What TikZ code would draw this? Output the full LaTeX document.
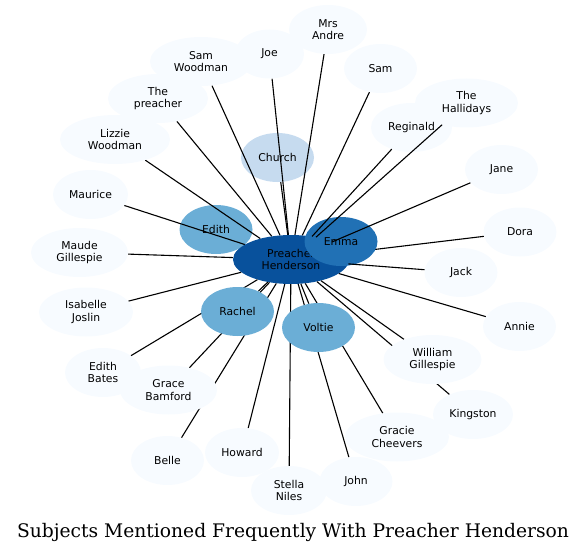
\documentclass[tikz,border=0pt]{standalone}
\usepackage{fontspec}
\usepackage{graphicx}
\newfontfamily\nodefont{DejaVu Sans}
\newfontfamily\titlefont{DejaVu Serif}
\usetikzlibrary{shapes.geometric}
\pgfdeclarelayer{under}
\pgfdeclarelayer{edgelow}
\pgfdeclarelayer{mid}
\pgfdeclarelayer{edgehigh}
\pgfsetlayers{under,edgelow,mid,edgehigh,main}
\definecolor{c0}{HTML}{F7FBFF}
\definecolor{c1}{HTML}{C6DBEF}
\definecolor{c2}{HTML}{6BAED6}
\definecolor{c3}{HTML}{2171B5}
\definecolor{c4}{HTML}{08519C}
\begin{document}
\begin{tikzpicture}[x=1pt,y=-1pt,
  ent/.style={ellipse, draw=none, inner sep=0pt, minimum height=49pt,
    minimum width=73pt, align=center, text=black,
    font=\nodefont\fontsize{10.8}{12.3}\selectfont},
  pale/.style={ent, fill=c0},
  link/.style={draw=black, line width=1.1pt}]
\useasboundingbox (0,0) rectangle (587,551);
% nodes beneath the connectors
\begin{pgfonlayer}{under}
\node[ent, fill=c2] (edith) at (216,229.5) {Edith};
\node[ent, fill=c4, minimum width=116pt] (ph) at (291,259.5) {Preacher\\Henderson};
\node[ent, fill=c1] (church) at (277.5,157.5) {Church};
\node[pale, minimum width=103pt] (halli) at (466.5,103) {The\\Hallidays};
\node[pale, minimum width=81pt] (regi) at (411.5,127.5) {Reginald};
\end{pgfonlayer}
\begin{pgfonlayer}{mid}
\node[ent, fill=c3] (emma) at (341,241.5) {Emma};
\end{pgfonlayer}
% nodes above the connectors
\node[pale, minimum width=78pt] (andre) at (328,29.5) {Mrs\\Andre};
\node[pale, minimum width=69pt] (joe) at (269.5,54) {Joe};
\node[pale, minimum width=102pt] (samw) at (201,61.5) {Sam\\Woodman};
\node[pale] (sam) at (380.5,68.5) {Sam};
\node[pale, minimum width=100pt] (thepr) at (158,98.5) {The\\preacher};
\node[pale, minimum width=110pt] (lizzie) at (115,139.5) {Lizzie\\Woodman};
\node[pale] (jane) at (501.5,169.5) {Jane};
\node[pale, minimum width=75pt] (maurice) at (90.5,194.5) {Maurice};
\node[pale] (dora) at (520,232) {Dora};
\node[pale, minimum width=97pt] (maude) at (79.5,252.5) {Maude\\Gillespie};
\node[pale] (jack) at (461,272.5) {Jack};
\node[pale, minimum width=94pt] (isab) at (86,312) {Isabelle\\Joslin};
\node[pale] (annie) at (519.5,326.5) {Annie};
\node[pale, minimum width=98pt] (wgill) at (432.5,359.5) {William\\Gillespie};
\node[pale, minimum width=80pt] (kings) at (473,414.5) {Kingston};
\node[pale, minimum width=104pt] (gracie) at (397,437) {Gracie\\Cheevers};
\node[pale, minimum width=76pt] (ebates) at (103,372.5) {Edith\\Bates};
\node[pale, minimum width=97pt] (grace) at (168.5,390) {Grace\\Bamford};
\node[pale] (belle) at (167.5,460.5) {Belle};
\node[pale, minimum width=74pt] (howard) at (242,452.5) {Howard};
\node[pale, minimum width=76pt] (stella) at (289,490.5) {Stella\\Niles};
\node[pale] (john) at (356,481.5) {John};
\node[ent, fill=c2] (rachel) at (237.5,311.5) {Rachel};
\node[ent, fill=c2] (voltie) at (318.5,327.5) {Voltie};
% connectors
\begin{pgfonlayer}{edgelow}
\draw[link] (dora) -- (ph);
\end{pgfonlayer}
\begin{pgfonlayer}{edgehigh}
\foreach \n in {andre,joe,samw,sam,thepr,halli,regi,lizzie,church,jane,maurice,
  maude,jack,isab,rachel,voltie,annie,wgill,ebates,grace,kings,gracie,howard,
  belle,john,stella}
  \draw[link] (\n) -- (ph);
\end{pgfonlayer}
\node[anchor=base, inner sep=0pt] (title) at (293,537)
  {\resizebox{552pt}{!}{\titlefont Subjects Mentioned Frequently With Preacher Henderson}};
\end{tikzpicture}
\end{document}
